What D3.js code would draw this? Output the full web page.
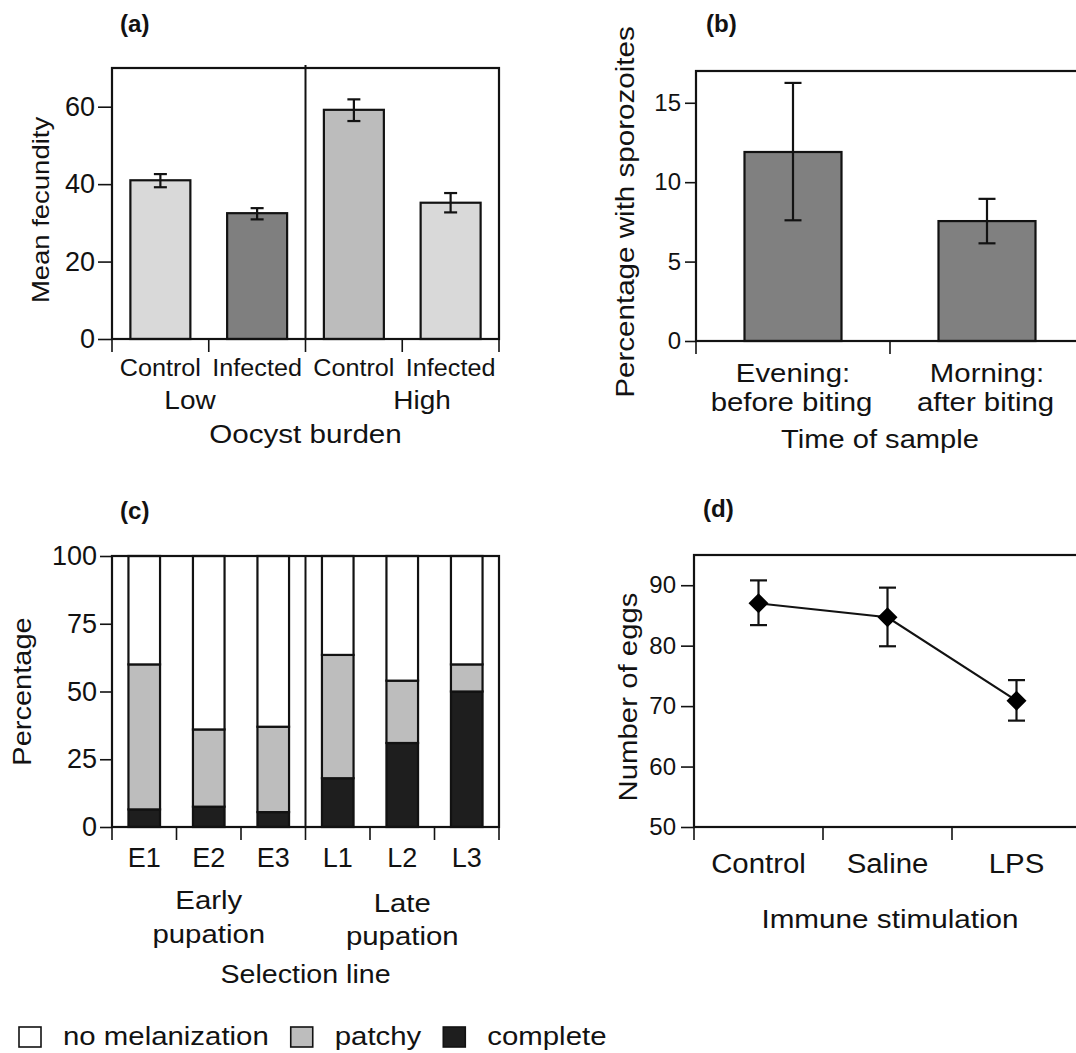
<!DOCTYPE html>
<html><head><meta charset="utf-8">
<script src="https://cdn.jsdelivr.net/npm/d3@7"></script>
<style>
body{margin:0;background:#fff}
svg{display:block;font-family:"Liberation Sans",Arial,Helvetica,sans-serif}
</style></head><body>
<svg id="chart" width="1076" height="1053"></svg>
<script>
// ---------- Panel (a) ----------
const aCategories = ["Control","Infected","Control","Infected"];
const aGroups = ["Low","High"];
const aValues = [41.0, 32.5, 59.2, 35.2];
const aErrLow = [39.2, 30.9, 56.3, 32.7];
const aErrHigh = [42.6, 33.8, 61.9, 37.7];
const aTicks = [0, 20, 40, 60];
// ---------- Panel (b) ----------
const bCategories = [["Evening:", "before biting"], ["Morning:", "after biting"]];
const bValues = [11.9, 7.55];
const bErrLow = [7.6, 6.15];
const bErrHigh = [16.25, 8.95];
const bTicks = [0, 5, 10, 15];
// ---------- Panel (c) ----------
const cCategories = ["E1","E2","E3","L1","L2","L3"];
const cComplete = [6.5, 7.5, 5.5, 18, 31, 50];
const cPatchy = [53.5, 28.5, 31.5, 45.5, 23, 10];
const cNone = [40, 64, 63, 36.5, 46, 40];
const cTicks = [0, 25, 50, 75, 100];
const cGroups = [["Early","pupation"], ["Late","pupation"]];
const cSeries = ["no melanization", "patchy", "complete"];
// ---------- Panel (d) ----------
const dCategories = ["Control","Saline","LPS"];
const dValues = [87.0, 84.7, 70.9];
const dErrLow = [83.4, 79.9, 67.6];
const dErrHigh = [90.8, 89.6, 74.3];
const dTicks = [50, 60, 70, 80, 90];

const INK = "#121212";
const svg = d3.select("#chart");

function txt(g, s, x, y, o = {}) {
  const size = o.size || 26, sx = o.sx || 1, anchor = o.anchor || "middle";
  let tr = `translate(${x},${y})`;
  if (o.rotate) tr += " rotate(-90)";
  tr += ` scale(${sx},1)`;
  return g.append("text").attr("transform", tr).attr("text-anchor", anchor)
    .attr("font-size", size).attr("font-weight", o.bold ? "bold" : "normal")
    .attr("fill", INK).text(s);
}
function frame(g, P) {
  g.append("rect").attr("x", P.L).attr("y", P.T).attr("width", P.R - P.L).attr("height", P.B - P.T)
    .attr("fill", "none").attr("stroke", INK).attr("stroke-width", 2.2);
}
function yAxis(g, y, P, ticks, size, len, pad) {
  const ax = g.append("g").attr("transform", `translate(${P.L},0)`)
    .call(d3.axisLeft(y).tickValues(ticks).tickSize(len).tickPadding(pad));
  ax.attr("font-family", null).attr("font-size", size);
  ax.select(".domain").remove();
  ax.selectAll("line").attr("stroke", INK).attr("stroke-width", 1.6);
  ax.selectAll("text").attr("fill", INK);
}
function xTicks(g, xs, P, len) {
  g.selectAll(null).data(xs).join("line")
    .attr("x1", d => d).attr("x2", d => d).attr("y1", P.B).attr("y2", P.B + len)
    .attr("stroke", INK).attr("stroke-width", 1.6);
}
function errBars(g, xs, lo, hi, y, cap) {
  const e = g.append("g").attr("stroke", INK).attr("stroke-width", 2.2);
  xs.forEach((x, i) => {
    e.append("line").attr("x1", x).attr("x2", x).attr("y1", y(lo[i])).attr("y2", y(hi[i]));
    e.append("line").attr("x1", x - cap / 2).attr("x2", x + cap / 2).attr("y1", y(lo[i])).attr("y2", y(lo[i]));
    e.append("line").attr("x1", x - cap / 2).attr("x2", x + cap / 2).attr("y1", y(hi[i])).attr("y2", y(hi[i]));
  });
}

// ================= Panel (a) =================
{
  const P = {L: 112, R: 499, T: 68, B: 339};
  const g = svg.append("g");
  const idx = d3.range(aValues.length);
  const x = d3.scaleBand().domain(idx).range([P.L, P.R]);
  const y = d3.scaleLinear().domain([0, 70]).range([P.B, P.T]);
  const bw = x.bandwidth(), w = bw * 0.62;
  const fills = ["#d9d9d9", "#7f7f7f", "#bcbcbc", "#d9d9d9"];
  g.selectAll(null).data(idx).join("rect")
    .attr("x", i => x(i) + (bw - w) / 2).attr("width", w)
    .attr("y", i => y(aValues[i])).attr("height", i => y(0) - y(aValues[i]))
    .attr("fill", i => fills[i]).attr("stroke", INK).attr("stroke-width", 2.2);
  errBars(g, idx.map(i => x(i) + bw / 2), aErrLow, aErrHigh, y, 13);
  frame(g, P);
  g.append("line").attr("x1", x(2)).attr("x2", x(2)).attr("y1", P.T - 3).attr("y2", P.B)
    .attr("stroke", INK).attr("stroke-width", 2);
  yAxis(g, y, P, aTicks, 27, 14, 3);
  xTicks(g, idx.map(i => x(i)).concat([P.R]), P, 13);
  idx.forEach(i => txt(g, aCategories[i], x(i) + bw / 2, P.B + 36.5, {size: 24, sx: 1.05}));
  txt(g, aGroups[0], P.L + 78, P.B + 70, {size: 25, sx: 1.12});
  txt(g, aGroups[1], P.L + 310, P.B + 70, {size: 25, sx: 1.12});
  txt(g, "Oocyst burden", (P.L + P.R) / 2, P.B + 104, {size: 26, sx: 1.14});
  txt(g, "Mean fecundity", P.L - 63, 210, {size: 24, sx: 1.145, rotate: true});
  txt(g, "(a)", 120, 32, {size: 23, sx: 1.05, bold: true, anchor: "start"});
}

// ================= Panel (b) =================
{
  const P = {L: 696, R: 1084, T: 71, B: 341};
  const g = svg.append("g");
  const idx = d3.range(bValues.length);
  const x = d3.scaleBand().domain(idx).range([P.L, P.R]);
  const y = d3.scaleLinear().domain([0, 17]).range([P.B, P.T]);
  const bw = x.bandwidth(), w = bw * 0.5;
  g.selectAll(null).data(idx).join("rect")
    .attr("x", i => x(i) + (bw - w) / 2).attr("width", w)
    .attr("y", i => y(bValues[i])).attr("height", i => y(0) - y(bValues[i]))
    .attr("fill", "#808080").attr("stroke", INK).attr("stroke-width", 2.2);
  errBars(g, idx.map(i => x(i) + bw / 2), bErrLow, bErrHigh, y, 17);
  frame(g, P);
  yAxis(g, y, P, bTicks, 24, 11, 4);
  xTicks(g, idx.map(i => x(i)), P, 13);
  idx.forEach(i => {
    txt(g, bCategories[i][0], x(i) + bw / 2, P.B + 41, {size: 26, sx: 1.13});
    txt(g, bCategories[i][1], x(i) + bw / 2 - 1.5, P.B + 70, {size: 26, sx: 1.13});
  });
  txt(g, "Time of sample", 880, P.B + 107, {size: 26, sx: 1.12});
  txt(g, "Percentage with sporozoites", P.L - 62, 212, {size: 25.5, sx: 1.16, rotate: true});
  txt(g, "(b)", 706, 32, {size: 23, sx: 1.05, bold: true, anchor: "start"});
}

// ================= Panel (c) =================
{
  const P = {L: 112, R: 499, T: 556, B: 827};
  const g = svg.append("g");
  const rows = cCategories.map((c, i) => ({cat: c, complete: cComplete[i], patchy: cPatchy[i], none: cNone[i]}));
  const keys = ["complete", "patchy", "none"];
  const fills = {complete: "#1e1e1e", patchy: "#bdbdbd", none: "#ffffff"};
  const stack = d3.stack().keys(keys)(rows);
  const x = d3.scaleBand().domain(cCategories).range([P.L, P.R]);
  const y = d3.scaleLinear().domain([0, 100]).range([P.B, P.T]);
  const bw = x.bandwidth(), w = bw * 0.49;
  stack.forEach(layer => {
    g.selectAll(null).data(layer).join("rect")
      .attr("x", d => x(d.data.cat) + (bw - w) / 2).attr("width", w)
      .attr("y", d => y(d[1])).attr("height", d => y(d[0]) - y(d[1]))
      .attr("fill", fills[layer.key]).attr("stroke", INK).attr("stroke-width", 2.2);
  });
  frame(g, P);
  g.append("line").attr("x1", x("L1")).attr("x2", x("L1")).attr("y1", P.T).attr("y2", P.B)
    .attr("stroke", INK).attr("stroke-width", 2);
  yAxis(g, y, P, cTicks, 27, 12, 3);
  xTicks(g, cCategories.map(c => x(c)).concat([P.R]), P, 13);
  cCategories.forEach(c => txt(g, c, x(c) + bw / 2, P.B + 40, {size: 27, sx: 1.0}));
  const gx = [x("E2") + bw / 2, x("L2") + bw / 2];
  txt(g, cGroups[0][0], gx[0], P.B + 82, {size: 26, sx: 1.13});
  txt(g, cGroups[0][1], gx[0], P.B + 116, {size: 26, sx: 1.13});
  txt(g, cGroups[1][0], gx[1], P.B + 85, {size: 26, sx: 1.13});
  txt(g, cGroups[1][1], gx[1], P.B + 118, {size: 26, sx: 1.13});
  txt(g, "Selection line", (P.L + P.R) / 2, P.B + 156, {size: 26, sx: 1.1});
  txt(g, "Percentage", P.L - 81, (P.T + P.B) / 2, {size: 25, sx: 1.16, rotate: true});
  txt(g, "(c)", 120, 519, {size: 23, sx: 1.05, bold: true, anchor: "start"});

  // legend
  const lg = svg.append("g");
  const lfills = [fills.none, fills.patchy, fills.complete];
  let lx = 19;
  cSeries.forEach((s, i) => {
    lg.append("rect").attr("x", lx).attr("y", 1027).attr("width", 22).attr("height", 20)
      .attr("fill", lfills[i]).attr("stroke", INK).attr("stroke-width", 1.6);
    const t = txt(lg, s, lx + 44, 1045, {size: 26, sx: 1.13, anchor: "start"});
    lx = lx + 44 + t.node().getComputedTextLength() * 1.13 + 22;
  });
}

// ================= Panel (d) =================
{
  const P = {L: 694, R: 1081, T: 555, B: 827};
  const g = svg.append("g");
  const x = d3.scaleBand().domain(dCategories).range([P.L, P.R]);
  const y = d3.scaleLinear().domain([50, 95]).range([P.B, P.T]);
  const bw = x.bandwidth();
  const cx = dCategories.map(c => x(c) + bw / 2);
  frame(g, P);
  yAxis(g, y, P, dTicks, 24, 13, 5);
  xTicks(g, dCategories.map(c => x(c)), P, 13);
  errBars(g, cx, dErrLow, dErrHigh, y, 17);
  const line = d3.line().x((d, i) => cx[i]).y(d => y(d));
  g.append("path").datum(dValues).attr("d", line).attr("fill", "none")
    .attr("stroke", INK).attr("stroke-width", 2.2);
  g.selectAll(null).data(dValues).join("path")
    .attr("d", d3.symbol(d3.symbolSquare, 200)())
    .attr("transform", (d, i) => `translate(${cx[i]},${y(d)}) rotate(45)`)
    .attr("fill", "#000");
  dCategories.forEach((c, i) => txt(g, c, cx[i], P.B + 46, {size: 28, sx: 1.05}));
  txt(g, "Immune stimulation", 890, P.B + 101, {size: 26.5, sx: 1.12});
  txt(g, "Number of eggs", P.L - 57, 697, {size: 26, sx: 1.13, rotate: true});
  txt(g, "(d)", 703, 517, {size: 23, sx: 1.05, bold: true, anchor: "start"});
}
</script>
</body></html>
